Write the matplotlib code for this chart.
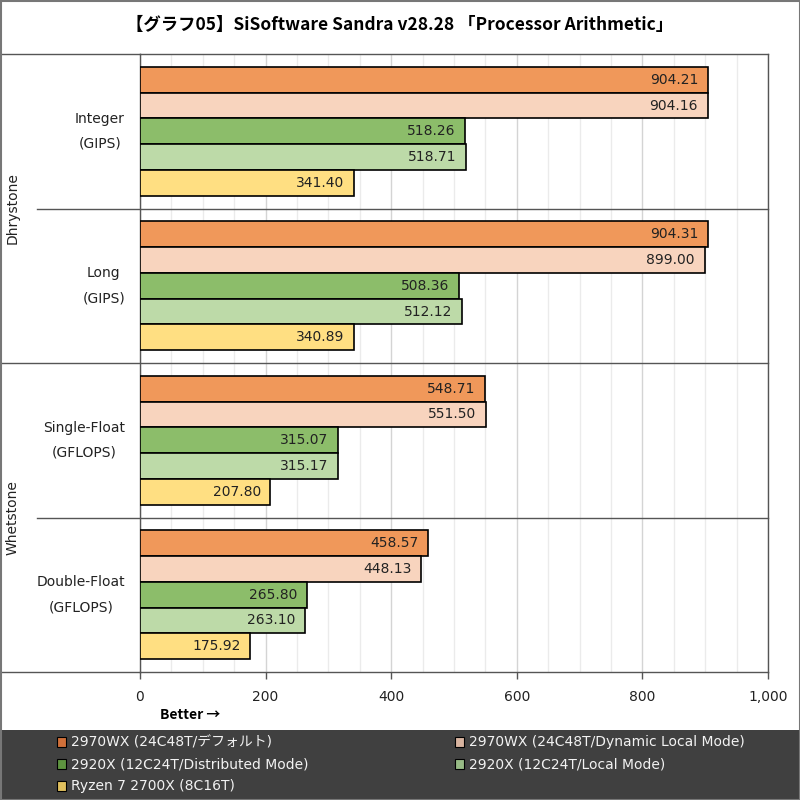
import matplotlib
matplotlib.use('Agg')
import matplotlib.pyplot as plt
from matplotlib.patches import Rectangle
from matplotlib.lines import Line2D
from matplotlib.ticker import MultipleLocator, FuncFormatter
import matplotlib.transforms as mtransforms

plt.rcParams['font.family'] = ['DejaVu Sans', 'Noto Sans CJK JP']

# データ
categories = ['Integer\n(GIPS)', 'Long\n(GIPS)', 'Single-Float\n(GFLOPS)', 'Double-Float\n(GFLOPS)']
groups = ['Dhrystone', 'Whetstone']
series = ['2970WX (24C48T/デフォルト)', '2970WX (24C48T/Dynamic Local Mode)',
          '2920X (12C24T/Distributed Mode)', '2920X (12C24T/Local Mode)',
          'Ryzen 7 2700X (8C16T)']
wx_default = [904.21, 904.31, 548.71, 458.57]
wx_dlm = [904.16, 899.00, 551.50, 448.13]
x_dist = [518.26, 508.36, 315.07, 265.80]
x_local = [518.71, 512.12, 315.17, 263.10]
r7 = [341.40, 340.89, 207.80, 175.92]
values = [wx_default, wx_dlm, x_dist, x_local, r7]

bar_colors = ['#F0985A', '#F8D4BE', '#8CBD6A', '#BDDAA8', '#FFDF82']
legend_colors = ['#D0703A', '#D8B4A0', '#5E9440', '#97BA85', '#E0C05E']

W, H = 800, 800
fig = plt.figure(figsize=(8, 8), dpi=100)
L, R, T, B = 140, 768, 54, 672
ax = fig.add_axes([L / W, 1 - B / H, (R - L) / W, (B - T) / H])

n = len(series)
bh = 1.0 / 6
for j, (vals, col) in enumerate(zip(values, bar_colors)):
    ys = [i + 1 / 12 + bh * (j + 0.5) for i in range(len(categories))]
    ax.barh(ys, vals, height=bh, color=col, edgecolor='black', linewidth=1.2, zorder=3)
    for y, v in zip(ys, vals):
        ax.annotate(f'{v:.2f}', (v, y), xytext=(-7, 0), textcoords='offset points',
                    ha='right', va='center', fontsize=10, color='#222222', zorder=4)

ax.set_xlim(0, 1000)
ax.set_ylim(len(categories), 0)
ax.xaxis.set_major_locator(MultipleLocator(200))
ax.xaxis.set_minor_locator(MultipleLocator(50))
ax.xaxis.set_major_formatter(FuncFormatter(lambda v, p: f'{int(v):,}'))
ax.grid(which='minor', axis='x', color='#EBEBEB', linewidth=1, zorder=0)
ax.grid(which='major', axis='x', color='#D4D4D4', linewidth=1, zorder=0)
ax.tick_params(axis='x', which='major', length=5, width=1, color='#555555', labelsize=10,
               pad=8, labelcolor='#222222')
ax.tick_params(axis='x', which='minor', length=0)
ax.tick_params(axis='y', length=0, labelleft=False)
for s in ax.spines.values():
    s.set_color('#555555')
    s.set_linewidth(1)

# カテゴリラベル・区切り線
tr = mtransforms.blended_transform_factory(fig.transFigure, ax.transData)
for i, c in enumerate(categories):
    ax.text(125 / W, i + 0.5, c, transform=tr, ha='right', va='center',
            multialignment='center', linespacing=2.0, fontsize=10, color='#222222')
for i in range(1, len(categories)):
    x0 = 0 if i % 2 == 0 else 37 / W
    ax.add_line(Line2D([x0, R / W], [i, i], transform=tr, color='#555555', lw=1, clip_on=False))
ax.add_line(Line2D([0, L / W], [0, 0], transform=tr, color='#555555', lw=1, clip_on=False))
ax.add_line(Line2D([0, L / W], [4, 4], transform=tr, color='#555555', lw=1, clip_on=False))
for g, name in enumerate(groups):
    ax.text(13 / W, 2 * g + 1, name, transform=tr, rotation=90, ha='center', va='center',
            fontsize=10, color='#222222')

fig.text(0.5, 1 - 25 / H, '【グラフ05】SiSoftware Sandra v28.28 「Processor Arithmetic」',
         ha='center', va='center', fontsize=12.5, fontweight='bold',
         family=['Noto Sans CJK JP', 'DejaVu Sans'])
fig.text(160 / W, 1 - 715 / H, 'Better →', ha='left', va='center', fontsize=10,
         fontweight='bold', family=['Noto Sans CJK JP', 'DejaVu Sans'])

# 凡例
fig.add_artist(Rectangle((0, 0), 1, 70 / H, transform=fig.transFigure,
                         facecolor='#404040', edgecolor='none', zorder=0))
pos = [(57, 742), (455, 742), (57, 764), (455, 764), (57, 786)]
for (px, py), lab, col in zip(pos, series, legend_colors):
    fig.add_artist(Rectangle((px / W, 1 - (py + 5) / H), 9 / W, 10 / H,
                             transform=fig.transFigure, facecolor=col,
                             edgecolor='black', lw=0.8))
    fig.text((px + 14) / W, 1 - py / H, lab, ha='left', va='center', fontsize=10,
             color='#F2F2F2')

fig.add_artist(Rectangle((0.5 / W, 0.5 / H), 1 - 1 / W, 1 - 1 / H, transform=fig.transFigure,
                         facecolor='none', edgecolor='#777777', lw=1.5))

fig.savefig('out.png', dpi=100, facecolor='white')
